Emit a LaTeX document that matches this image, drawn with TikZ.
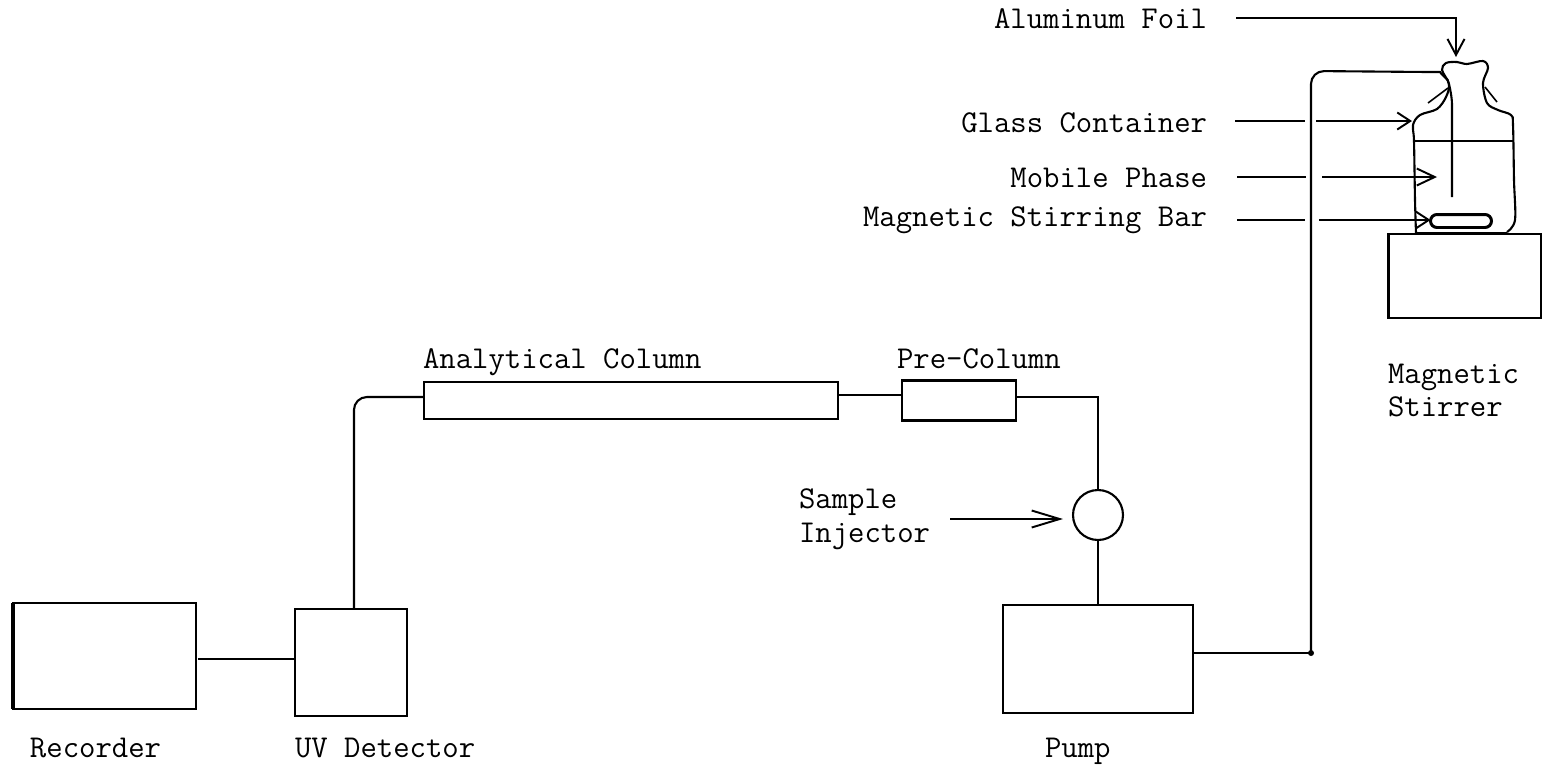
\documentclass[tikz,border=0pt]{standalone}
\usepackage{xcolor}
\usetikzlibrary{positioning,arrows.meta}

\begin{document}
\begin{tikzpicture}[
  x=0.02cm, y=-0.02cm,
  unit/.style={rectangle, draw, minimum width=#1, inner sep=0pt, outer sep=0pt},
  lab/.style={inner sep=0pt, outer sep=0pt, align=left,
              font=\fontsize{18.1}{18.9}\selectfont\ttfamily},
  pipe/.style={rounded corners=0.26cm},
  barb/.style={-{Straight Barb[length=#1,width=0.34cm,line width=1.1pt]}},
  barb/.default=0.3cm,
  line width=1.2pt
]
  \useasboundingbox (0,0) rectangle (1542,765);

  % instrument boxes
  \node[unit=3.66cm, minimum height=2.12cm] (recorder) at (104.5,656) {};
  \node[unit=2.24cm, minimum height=2.14cm, right=1.98cm of recorder, yshift=-0.13cm] (detector) {};
  \node[unit=8.28cm, minimum height=0.74cm] (column) at (631,400.5) {};
  \node[unit=2.28cm, minimum height=0.8cm, right=1.28cm of column] (precolumn) {};
  \node[circle, draw, minimum size=1cm, inner sep=0pt, outer sep=0pt] (injector) at (1098,515) {};
  \node[unit=3.8cm, minimum height=2.16cm, below=1.3cm of injector] (pump) {};
  \node[unit=3.06cm, minimum height=1.68cm] (stirrer) at (1465,276) {};

  % labels
  \node[lab, anchor=base east] (foil)  at (1207,28)  {Aluminum Foil};
  \node[lab, anchor=base east] (glass) at (1207,132) {Glass Container};
  \node[lab, anchor=base east] (phase) at (1207,187) {Mobile Phase};
  \node[lab, anchor=base east] (bar)   at (1207,226) {Magnetic Stirring Bar};
  \node[lab, anchor=base west] (lcolumn) at (423,368) {Analytical Column};
  \node[lab, anchor=base west] (lpre)    at (897,368) {Pre-Column};
  \node[lab, anchor=north west] (lstirrer) at (1388,364) {Magnetic\\Stirrer};
  \node[lab, anchor=north west] (lsample)  at (799,489)  {Sample\\Injector};
  \node[lab, anchor=base west] (lrecorder) at (30,757)   {Recorder};
  \node[lab, anchor=base west] (ldetector) at (295,757)  {UV Detector};
  \node[lab, anchor=base west] (lpump)     at (1045,757) {Pump};

  % heavy left edge of the recorder
  \draw[line width=2.4pt] (recorder.north west) -- (recorder.south west);

  % bottle on the stirrer
  \draw[line join=round] plot[smooth, tension=0.55] coordinates {
    (1416,233) (1415,200) (1414,141) (1413,125) (1420,115) (1437,109) (1446,97) (1449,84)
    (1442,70) (1446,63) (1457,62) (1467,64) (1483,61) (1488,68) (1483,83) (1487,103)
    (1498,110) (1511,115) (1513,125) (1514,180) (1515,220) (1507,232)};
  \draw (1414,141) -- (1513,141);
  \draw (1416,233) -- (1507,233);
  \draw[line width=0.9pt] (1428,103) -- (1448,88);
  \draw[line width=0.9pt] (1497,102) -- (1485,87);
  \node[draw, line width=1.7pt, rounded corners=0.13cm, minimum width=1.22cm, minimum height=0.26cm,
        inner sep=0pt, outer sep=0pt] (stirbar) at (1461,221) {};

  % free ends
  \coordinate (foilstart) at (1236,18);
  \coordinate (foiltip)  at (1456,57);
  \coordinate (glassa)   at (1305,121);
  \coordinate (glassb)   at (1316,121);
  \coordinate (glasstip) at (1412,121);
  \coordinate (phasea)   at (1306,177);
  \coordinate (phaseb)   at (1322,177);
  \coordinate (phasetip) at (1437,177);
  \coordinate (bara)     at (1305,220);
  \coordinate (barb1)    at (1319,220);
  \coordinate (samplea)  at (950,519);
  \coordinate (sampletip) at (1063,519);
  \coordinate (tubefoot) at (1311,653);
  \coordinate (tubeend)  at (1452,197);

  % pointers
  \draw[barb=0.32cm] (foilstart) -| (foiltip);
  \draw ([xshift=0.56cm]glass.east |- glassa) -- (glassa);
  \draw[barb=0.26cm] (glassb) -- (glasstip);
  \draw ([xshift=0.6cm]phase.east |- phasea) -- (phasea);
  \draw[barb=0.36cm] (phaseb) -- (phasetip);
  \draw ([xshift=0.6cm]bar.east |- bara) -- (bara);
  \draw[barb=0.26cm] (barb1) -- (stirbar.west |- barb1);
  \draw[barb=0.56cm] (samplea) -- (sampletip);

  % flow path
  \draw ([xshift=0.04cm]recorder.east |- 0,659) -- (detector.west |- 0,659);
  \draw[pipe] ([xshift=0.06cm]detector.north) |- (column.west |- 0,397);
  \draw (column.east |- 0,395) -- (precolumn.west |- 0,395);
  \draw (precolumn.east |- 0,397) -| (injector.north);
  \draw (injector.south) -- (injector.south |- pump.north);
  \draw (pump.east |- tubefoot) -- (tubefoot);
  \draw[pipe] (tubefoot) -- (1311,71) -- (1427,72)
    to[out=0, in=110] (1452,92) -- (tubeend);
  \fill (tubefoot) circle (3);
\end{tikzpicture}
\end{document}
